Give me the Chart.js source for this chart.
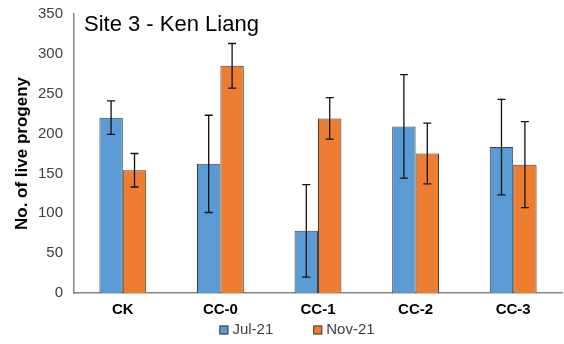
<!DOCTYPE html>
<html>
<head>
<meta charset="utf-8">
<script src="https://cdn.jsdelivr.net/npm/chart.js@4"></script>
<style>
  html, body { margin: 0; padding: 0; background: #fff; }
  #wrap { width: 564px; height: 344px; position: relative; }
</style>
</head>
<body>
<div id="wrap"><canvas id="chart"></canvas></div>
<script>
// data
const categories = ['CK', 'CC-0', 'CC-1', 'CC-2', 'CC-3'];
const seriesNames = ['Jul-21', 'Nov-21'];
const julValues = [220, 162, 78, 209, 183];
const julErrors = [21, 61, 58, 65, 60];
const novValues = [154, 285, 219, 175, 161];
const novErrors = [21, 28, 26, 38, 54];
const yTicks = [0, 50, 100, 150, 200, 250, 300, 350];

const FONT = "'Liberation Sans', Arial, sans-serif";

// error bars drawn from scale positions
const errorBars = {
    id: 'errorBars',
    afterDatasetsDraw(chart) {
        const ctx = chart.ctx;
        const y = chart.scales.y;
        chart.data.datasets.forEach((ds, i) => {
            const meta = chart.getDatasetMeta(i);
            meta.data.forEach((bar, j) => {
                const v = ds.data[j], e = ds.errors[j];
                const top = y.getPixelForValue(v + e);
                const bot = y.getPixelForValue(v - e);
                ctx.save();
                ctx.strokeStyle = '#111';
                ctx.lineWidth = 1.3;
                ctx.beginPath();
                ctx.moveTo(bar.x, top); ctx.lineTo(bar.x, bot);
                ctx.moveTo(bar.x - 4, top); ctx.lineTo(bar.x + 4, top);
                ctx.moveTo(bar.x - 4, bot); ctx.lineTo(bar.x + 4, bot);
                ctx.stroke();
                ctx.restore();
            });
        });
    }
};

// title inside plot area + legend under the axis
const extras = {
    id: 'extras',
    afterDraw(chart) {
        const ctx = chart.ctx;
        ctx.save();
        ctx.fillStyle = '#000';
        ctx.font = '22px ' + FONT;
        ctx.textBaseline = 'middle';
        ctx.fillText('Site 3 - Ken Liang', chart.chartArea.left + 10, 25);

        // legend
        ctx.font = '15px ' + FONT;
        const box = 9, gap = 4, itemGap = 40;
        const items = chart.data.datasets.map(ds => ({
            ds, w: box + gap + ctx.measureText(ds.label).width
        }));
        const total = items.reduce((s, it) => s + it.w, 0) + itemGap * (items.length - 1);
        let x = chart.width / 2 + 15 - total / 2;
        const yMid = 330;
        items.forEach(it => {
            ctx.fillStyle = it.ds.backgroundColor;
            ctx.fillRect(x, yMid - box / 2, box, box);
            ctx.strokeStyle = '#3f3f3f';
            ctx.lineWidth = 1;
            ctx.strokeRect(x + 0.5, yMid - box / 2 + 0.5, box - 1, box - 1);
            ctx.fillStyle = '#404040';
            ctx.fillText(it.ds.label, x + box + gap, yMid);
            x += it.w + itemGap;
        });
        ctx.restore();
    }
};

new Chart(document.getElementById('chart'), {
    type: 'bar',
    data: {
        labels: categories,
        datasets: [
            {
                label: seriesNames[0],
                data: julValues,
                errors: julErrors,
                backgroundColor: '#5b9bd5',
                borderColor: '#3f3f3f',
                borderWidth: 1
            },
            {
                label: seriesNames[1],
                data: novValues,
                errors: novErrors,
                backgroundColor: '#ed7d31',
                borderColor: '#3f3f3f',
                borderWidth: 1
            }
        ]
    },
    options: {
        responsive: true,
        maintainAspectRatio: false,
        animation: false,
        categoryPercentage: 0.48,
        barPercentage: 1,
        layout: { padding: { top: 14, right: 2, left: 0, bottom: 17 } },
        plugins: {
            legend: { display: false },
            tooltip: { enabled: false }
        },
        scales: {
            x: {
                grid: { display: false, drawTicks: false },
                border: { color: '#868686', width: 1.5 },
                ticks: {
                    font: { family: FONT, size: 15, weight: 'bold' },
                    color: '#000',
                    padding: 8
                }
            },
            y: {
                min: 0,
                max: 350,
                afterBuildTicks(axis) { axis.ticks = yTicks.map(v => ({ value: v })); },
                afterFit(axis) { axis.width = 74; },
                grid: { display: false, drawOnChartArea: false, drawTicks: true, tickLength: 6, tickColor: '#868686' },
                border: { color: '#868686', width: 1.5 },
                ticks: {
                    font: { family: FONT, size: 15 },
                    color: '#404040',
                    padding: 5
                },
                title: {
                    display: true,
                    text: 'No. of live progeny',
                    font: { family: FONT, size: 17, weight: 'bold' },
                    color: '#000',
                    padding: { top: 12, bottom: 0 }
                }
            }
        }
    },
    plugins: [errorBars, extras]
});
</script>
</body>
</html>
